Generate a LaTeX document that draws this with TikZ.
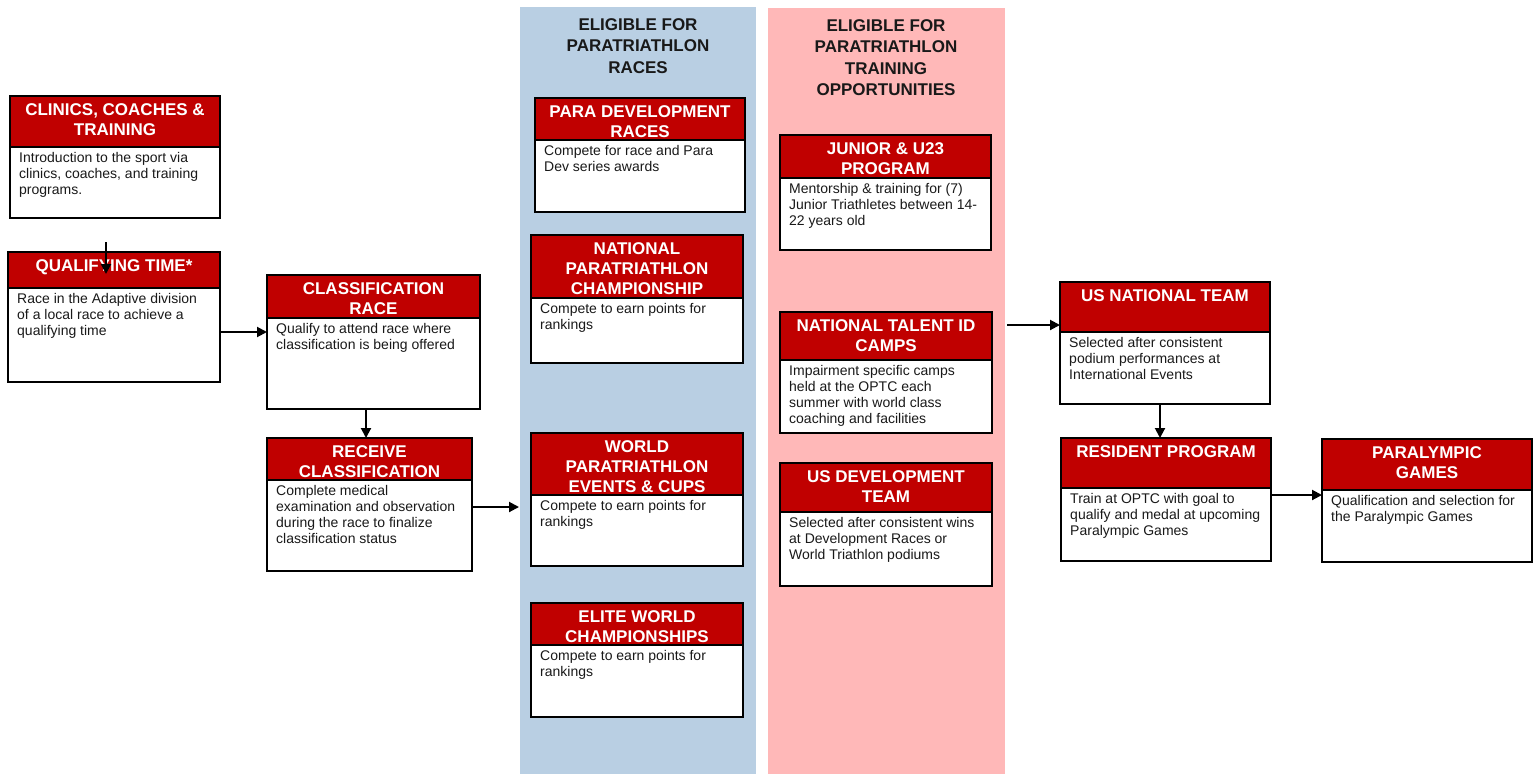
\documentclass[tikz,border=0pt]{standalone}
\usepackage{fontspec}
\setmainfont{Liberation Sans}
\usetikzlibrary{arrows.meta}
\definecolor{hdrred}{RGB}{192,0,0}
\definecolor{bandblue}{RGB}{185,207,227}
\definecolor{bandpink}{RGB}{255,184,184}
\tikzset{
  frame/.style={draw=black, line width=2.6pt, inner sep=0pt, outer sep=0pt},
  hdrtext/.style={text=white, font=\fontsize{17}{20}\selectfont\bfseries, align=center, inner sep=0pt},
  bodytext/.style={text=black!90, font=\fontsize{14}{16}\selectfont, align=left, inner sep=0pt},
  bandtitle/.style={text=black!90, font=\fontsize{17}{21.5}\selectfont\bfseries, align=center, inner sep=0pt},
  arr/.style={draw=black, line width=2pt, -{Triangle[length=10pt,width=10pt]}}
}
\newcommand\parabox[8]{%
  \pgfmathsetmacro\pbw{#4-#2}%
  \pgfmathsetmacro\pbh{#5-#3}%
  \fill[hdrred] (#2,#3) rectangle (#4,#6);
  \fill[white] (#2,#6) rectangle (#4,#5);
  \draw[line width=2pt] (#2,#6) -- (#4,#6);
  \node[frame, minimum width=\pbw pt, minimum height=\pbh pt, anchor=north west] (#1) at (#2,#3) {};
  \node[hdrtext, anchor=north] (#1-h) at ({(#2+#4)/2},{#3+6}) {\rule{0pt}{13pt}#7};
  \node[bodytext, anchor=north west] (#1-b) at ({#2+9},{#6+4}) {\rule{0pt}{11pt}#8};
}
\begin{document}
\begin{tikzpicture}[x=1pt,y=-1pt]
\useasboundingbox (0,0) rectangle (1538,774);
\fill[white] (0,0) rectangle (1538,774);

% bands
\fill[bandblue] (520,7) rectangle (756,774);
\fill[bandpink] (768,8) rectangle (1005,774);
\node[bandtitle, anchor=north] (bluetitle) at (638,17) {\rule{0pt}{13pt}ELIGIBLE FOR\\PARATRIATHLON\\RACES};
\node[bandtitle, anchor=north] (pinktitle) at (886,18) {\rule{0pt}{13pt}ELIGIBLE FOR\\PARATRIATHLON\\TRAINING\\OPPORTUNITIES};

% left column
\parabox{clin}{10}{96}{220}{218}{147}{CLINICS, COACHES \&\\TRAINING}{Introduction to the sport via\\clinics, coaches, and training\\programs.}
\parabox{qual}{8}{252}{220}{382}{288}{QUALIFYING TIME*}{Race in the Adaptive division\\of a local race to achieve a\\qualifying time}
\parabox{crace}{267}{275}{480}{409}{318}{CLASSIFICATION\\RACE}{Qualify to attend race where\\classification is being offered}
\parabox{recv}{267}{438}{472}{571}{480}{RECEIVE\\CLASSIFICATION}{Complete medical\\examination and observation\\during the race to finalize\\classification status}

% blue band boxes
\parabox{pdev}{535}{98}{745}{212}{140}{PARA DEVELOPMENT\\RACES}{Compete for race and Para\\Dev series awards}
\parabox{natch}{531}{235}{743}{363}{298}{NATIONAL\\PARATRIATHLON\\CHAMPIONSHIP}{Compete to earn points for\\rankings}
\parabox{world}{531}{433}{743}{566}{495}{WORLD\\PARATRIATHLON\\EVENTS \& CUPS}{Compete to earn points for\\rankings}
\parabox{elite}{531}{603}{743}{717}{645}{ELITE WORLD\\CHAMPIONSHIPS}{Compete to earn points for\\rankings}

% pink band boxes
\parabox{junior}{780}{135}{991}{250}{178}{JUNIOR \& U23\\PROGRAM}{Mentorship \& training for (7)\\Junior Triathletes between 14-\\22 years old}
\parabox{talent}{780}{312}{992}{433}{360}{NATIONAL TALENT ID\\CAMPS}{Impairment specific camps\\held at the OPTC each\\summer with world class\\coaching and facilities}
\parabox{usdev}{780}{463}{992}{586}{512}{US DEVELOPMENT\\TEAM}{Selected after consistent wins\\at Development Races or\\World Triathlon podiums}

% right column
\parabox{usnat}{1060}{282}{1270}{404}{332}{US NATIONAL TEAM}{Selected after consistent\\podium performances at\\International Events}
\parabox{resid}{1061}{438}{1271}{561}{488}{RESIDENT PROGRAM}{Train at OPTC with goal to\\qualify and medal at upcoming\\Paralympic Games}
\parabox{paral}{1322}{439}{1532}{562}{490}{PARALYMPIC\\GAMES}{Qualification and selection for\\the Paralympic Games}

% connectors
\coordinate (c1s) at (106,242);
\coordinate (c1e) at (106,274);
\draw[arr] (c1s) -- (c1e);
\draw[arr] (qual.east |- 0,332) -- (crace.west |- 0,332);
\draw[arr] (crace.south -| 366,0) -- (recv.north -| 366,0);
\coordinate (blueedge) at (519,507);
\draw[arr] (recv.east |- blueedge) -- (blueedge);
\coordinate (pinkedge) at (1007,325);
\draw[arr] (pinkedge) -- (usnat.west |- pinkedge);
\draw[arr] (usnat.south -| 1160,0) -- (resid.north -| 1160,0);
\draw[arr] (resid.east |- 0,495) -- (paral.west |- 0,495);
\end{tikzpicture}
\end{document}
